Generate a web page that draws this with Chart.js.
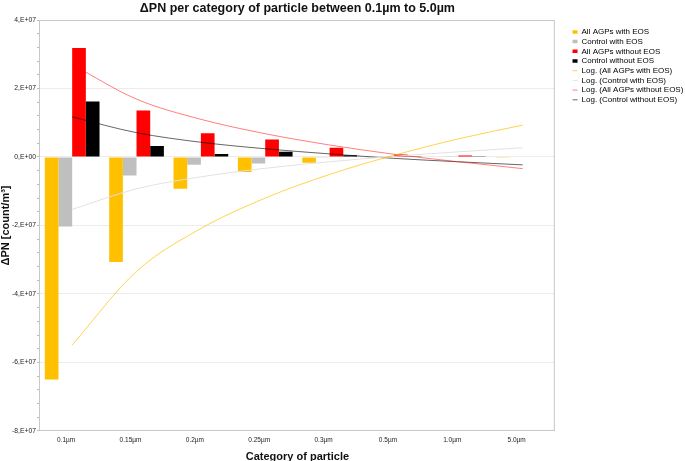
<!DOCTYPE html>
<html>
<head>
<meta charset="utf-8">
<script src="https://cdn.jsdelivr.net/npm/chart.js@4"></script>
<style>
  body { margin: 0; background: #fff; }
  #wrap { width: 685px; height: 461px; }
</style>
</head>
<body>
<div id="wrap"><canvas id="pnChart"></canvas></div>
<script>
const categories = ['0.1µm', '0.15µm', '0.2µm', '0.25µm', '0.3µm', '0.5µm', '1.0µm', '5.0µm'];

// bars (count/m3)
const agpWithEos = [-6.50e7, -3.07e7, -0.93e7, -0.44e7, -0.17e7, -0.01e7, 0, -0.02e7];
const ctrlWithEos = [-2.03e7, -0.54e7, -0.23e7, -0.19e7, -0.02e7, 0.01e7, 0.02e7, 0];
const agpWithoutEos = [3.18e7, 1.36e7, 0.69e7, 0.51e7, 0.27e7, 0.07e7, 0.04e7, 0];
const ctrlWithoutEos = [1.62e7, 0.32e7, 0.09e7, 0.15e7, 0.05e7, 0.01e7, 0.01e7, 0];

// log trend lines at each category
const logAgpWithEos = [-5.49e7, -3.34e7, -2.09e7, -1.20e7, -0.51e7, 0.05e7, 0.53e7, 0.93e7];
const logCtrlWithEos = [-1.53e7, -0.93e7, -0.58e7, -0.33e7, -0.14e7, 0.02e7, 0.15e7, 0.27e7];
const logAgpWithoutEos = [2.70e7, 1.69e7, 1.10e7, 0.68e7, 0.35e7, 0.08e7, -0.14e7, -0.34e7];
const logCtrlWithoutEos = [1.17e7, 0.71e7, 0.43e7, 0.24e7, 0.09e7, -0.04e7, -0.14e7, -0.23e7];

Chart.defaults.font.family = "'Liberation Sans', Arial, sans-serif";
Chart.defaults.color = '#222';

function barSet(label, data, color) {
  return {
    label: label,
    data: data,
    backgroundColor: color,
    borderWidth: 0,
    pointStyle: 'rect',
    barPercentage: 1.0,
    categoryPercentage: 0.85
  };
}

function logSet(label, data, color) {
  return {
    type: 'line',
    label: label,
    data: data,
    borderColor: color,
    borderWidth: 1,
    pointRadius: 0,
    pointBorderWidth: 1,
    pointStyle: 'line',
    cubicInterpolationMode: 'monotone',
    fill: false,
    order: -1
  };
}

const plotBorder = {
  id: 'plotBorder',
  beforeDatasetsDraw(chart) {
    const { ctx, chartArea: a } = chart;
    ctx.save();
    ctx.strokeStyle = '#c8c8c8';
    ctx.lineWidth = 1;
    ctx.beginPath();
    ctx.moveTo(a.left, a.top + 0.5);
    ctx.lineTo(a.right - 0.5, a.top + 0.5);
    ctx.lineTo(a.right - 0.5, a.bottom);
    ctx.stroke();
    ctx.restore();
  }
};

new Chart(document.getElementById('pnChart'), {
  type: 'bar',
  data: {
    labels: categories,
    datasets: [
      barSet('All AGPs with EOS', agpWithEos, '#ffc000'),
      barSet('Control with EOS', ctrlWithEos, '#bfbfbf'),
      barSet('All AGPs without EOS', agpWithoutEos, '#ff0000'),
      barSet('Control without EOS', ctrlWithoutEos, '#000000'),
      logSet('Log. (All AGPs with EOS)', logAgpWithEos, 'rgba(255, 192, 0, 0.7)'),
      logSet('Log. (Control with EOS)', logCtrlWithEos, '#e2e2e2'),
      logSet('Log. (All AGPs without EOS)', logAgpWithoutEos, 'rgba(255, 0, 0, 0.5)'),
      logSet('Log. (Control without EOS)', logCtrlWithoutEos, 'rgba(0, 0, 0, 0.6)')
    ]
  },
  options: {
    responsive: true,
    maintainAspectRatio: false,
    animation: false,
    layout: { padding: { left: 0 } },
    plugins: {
      title: {
        display: true,
        fullSize: false,
        text: 'ΔPN per category of particle between 0.1µm to 5.0µm',
        color: '#111',
        font: { size: 12.5, weight: 'bold' },
        padding: { top: 1, bottom: 4 }
      },
      legend: {
        position: 'right',
        align: 'start',
        title: { display: true, text: ' ', font: { size: 1 }, padding: { top: 25, bottom: 0 } },
        labels: {
          usePointStyle: true,
          pointStyleWidth: 5,
          boxHeight: 3.5,
          padding: 1.7,
          color: '#000',
          font: { size: 8 },
          sort: (a, b) => a.datasetIndex - b.datasetIndex
        }
      },
      tooltip: { enabled: false }
    },
    scales: {
      x: {
        grid: { display: false, drawTicks: false },
        border: { color: '#c8c8c8' },
        ticks: { font: { size: 6.5 }, padding: 5, labelOffset: -6, maxRotation: 0, autoSkip: false },
        title: {
          display: true,
          text: 'Category of particle',
          color: '#111',
          font: { size: 11, weight: 'bold', lineHeight: 0.75 },
          padding: { top: 4, bottom: 0 }
        }
      },
      y: {
        min: -8e7,
        max: 4e7,
        border: { color: '#c8c8c8' },
        grid: {
          color: c => (c.tick && Math.abs(c.tick.value % 2e7) < 1 ? '#ececec' : 'rgba(0,0,0,0)'),
          tickColor: '#bdbdbd',
          tickLength: 3
        },
        ticks: {
          stepSize: 4e6,
          autoSkip: false,
          padding: 1,
          font: { size: 6.8 },
          callback: v => {
            if (Math.abs(v % 2e7) > 1) return '';
            if (v === 0) return '0,E+00';
            return Math.round(v / 1e7) + ',E+07';
          }
        },
        title: {
          display: true,
          text: 'ΔPN [count/m³]',
          color: '#111',
          font: { size: 11, weight: 'bold', lineHeight: 1 },
          padding: 0
        }
      },
      yPad: {
        type: 'linear',
        position: 'right',
        grid: { display: false, drawTicks: false },
        border: { display: false },
        ticks: { display: false },
        afterFit(scale) { scale.width = 16; }
      }
    }
  },
  plugins: [plotBorder]
});
</script>
</body>
</html>
